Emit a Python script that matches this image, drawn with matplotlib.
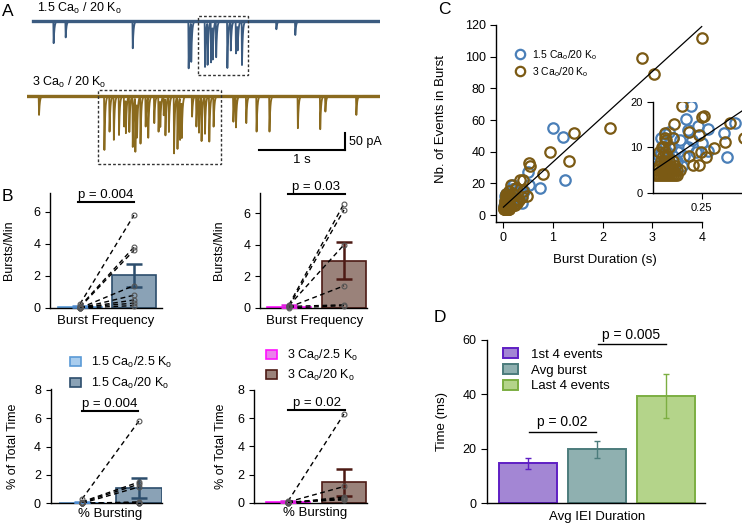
import numpy as np
import matplotlib
matplotlib.use("Agg")
import matplotlib.pyplot as plt
from matplotlib.patches import Rectangle

plt.rcParams['font.family'] = ['Liberation Sans', 'DejaVu Sans']
plt.rcParams['mathtext.fontset'] = 'custom'
plt.rcParams['mathtext.rm'] = 'Liberation Sans'
plt.rcParams['mathtext.it'] = 'Liberation Sans:italic'
plt.rcParams['axes.linewidth'] = 1.0

W, H = 742, 524

# ---------------- data ----------------
# A: example traces, spike times (s) and amplitudes (pA)
top_t = [0.31, 0.45, 1.23, 1.88, 1.91, 2.07, 2.10, 2.14, 2.16, 2.20, 2.33, 2.37,
         2.43, 2.45, 2.50, 2.90, 3.12]
top_a = [65, 48, 80, 139, 115, 135, 124, 120, 100, 105, 138, 85, 95, 76, 129, 24, 41]
bot_t = [0.14, 0.90, 0.96, 1.01, 1.07, 1.13, 1.15, 1.19, 1.23, 1.26, 1.28, 1.32,
         1.38, 1.41, 1.48, 1.53, 1.55, 1.59, 1.61, 1.65, 1.71, 1.75, 1.78, 1.80,
         1.92, 1.97, 2.00, 2.03, 2.07, 2.12, 2.17, 2.40, 2.43, 2.55, 2.67, 2.82,
         3.15, 3.41, 3.47, 3.83]
bot_a = [56, 159, 105, 129, 115, 90, 100, 105, 149, 159, 105, 139, 90, 120, 80, 105,
         80, 56, 110, 105, 169, 154, 124, 110, 61, 90, 105, 129, 110, 134, 90, 76,
         90, 80, 105, 105, 95, 98, 46, 56]

# B: paired values (2.5 K vs 20 K)
b1_left = [0.25, 0.1, 0.05, 0.0, 0.0, 0.0, 0.05, 0.0]
b1_right = [5.8, 3.8, 3.6, 1.4, 0.8, 0.5, 0.3, 0.15]
b1_mean = [0.05, 2.05]
b1_err = [0.1, 0.72]
b2_left = [0.2, 0.1, 0.15, 0.05, 0.1, 0.0]
b2_right = [6.6, 6.2, 4.0, 1.4, 0.2, 0.15]
b2_mean = [0.08, 3.0]
b2_err = [0.08, 1.15]
b3_left = [0.3, 0.1, 0.05, 0.0, 0.0, 0.0, 0.0, 0.0]
b3_right = [5.8, 1.5, 1.35, 1.15, 0.1, 0.05, 0.05, 0.0]
b3_mean = [0.05, 1.1]
b3_err = [0.05, 0.7]
b4_left = [0.1, 0.05, 0.0, 0.0, 0.0, 0.05]
b4_right = [6.3, 1.15, 0.4, 0.3, 0.25, 0.2]
b4_mean = [0.05, 1.45]
b4_err = [0.05, 0.95]

# C: burst duration (s) vs number of events
blue_x = [1.00, 1.21, 1.25, 0.73, 0.50, 0.52,
          0.195, 0.170, 0.230, 0.285, 0.422, 0.365, 0.179, 0.200, 0.138, 0.383,
          0.284, 0.082, 0.059, 0.041,
          0.02, 0.03, 0.04, 0.05, 0.06, 0.07, 0.08, 0.09, 0.10, 0.11, 0.12, 0.13,
          0.15, 0.16, 0.18, 0.22, 0.25, 0.06, 0.10]
blue_y = [55, 49, 22, 17, 27, 19,
          19.2, 16.2, 14.8, 14.0, 15.4, 13.1, 13.9, 11.7, 11.7, 7.8,
          9.3, 13.3, 10.9, 8.7,
          6, 8, 12, 5, 7, 9, 6, 10, 8, 5, 7, 9,
          6, 8, 10, 9, 11, 13, 12]
brown_x = [4.0, 2.79, 3.03, 2.15, 1.43, 0.93, 1.33, 0.79, 0.52, 0.54, 0.40, 0.34,
           0.147, 0.262, 0.254, 0.106, 0.395, 0.466, 0.186, 0.236, 0.369, 0.312,
           0.245, 0.183, 0.271, 0.206, 0.236, 0.059, 0.067, 0.046,
           0.01, 0.02, 0.03, 0.04, 0.05, 0.06, 0.07, 0.08, 0.09, 0.10, 0.11, 0.12,
           0.02, 0.04, 0.06, 0.08, 0.10, 0.12, 0.14, 0.03, 0.05, 0.07, 0.09, 0.11,
           0.04, 0.06, 0.08, 0.10, 0.05, 0.07, 0.03, 0.06, 0.05, 0.08, 0.06, 0.10]
brown_y = [112, 99, 89, 55, 52, 40, 34, 26, 33, 31, 22, 22,
           19.2, 17.0, 16.8, 15.2, 15.4, 12.0, 13.5, 12.8, 11.3, 9.8,
           9.1, 8.1, 7.8, 6.1, 6.1, 13.1, 11.7, 10.2,
           4, 4, 4, 4, 4, 4, 4, 4, 4, 4, 4, 4,
           5, 5, 5, 5, 5, 5, 5, 6, 6, 6, 6, 6,
           7, 7, 7, 7, 8, 8, 9, 9, 10, 10, 12, 12]
fit_slope = 28.5
fit_intercept = 5.0

# D: IEI
d_labels = ['1st 4 events', 'Avg burst', 'Last 4 events']
d_mean = [14.7, 19.8, 39.5]
d_err = [2.1, 3.0, 8.0]

# ---------------- figure ----------------
fig = plt.figure(figsize=(W / 100, H / 100), dpi=100)


def px_axes(l, t, r, b):
    return fig.add_axes([l / W, 1 - b / H, (r - l) / W, (b - t) / H])


def fx(x):
    return x / W


def fy(y):
    return 1 - y / H


def trace(ts, amps, t0, t1):
    t = np.sort(np.concatenate([np.linspace(t0, t1, 4000), ts]))
    y = np.zeros_like(t)
    for s, a in zip(ts, amps):
        d = t - s
        k = np.where(d < 0, np.clip(1 + d / 0.004, 0, 1), np.exp(-d / 0.009))
        y -= a * k
    return t, y


# ---- A ----
top_c = '#3b5b80'
bot_c = '#8a6a1e'
axA = px_axes(27, 0, 380, 170)
axA.set_xlim(0, 4.105)
axA.set_ylim(-438, 62)
axA.axis('off')
t, y = trace(top_t, top_a, 0.07, 4.105)
axA.plot(t, y, color=top_c, lw=1.3)
axA.plot([0.07, 4.105], [0, 0], color=top_c, lw=2.4)
t, y = trace(bot_t, bot_a, 0.0, 4.105)
axA.plot(t, y - 220, color=bot_c, lw=1.3)
axA.plot([0.0, 4.105], [-220, -220], color=bot_c, lw=2.4)
axA.add_patch(Rectangle((1.99, -159), 0.58, 173.7, fill=False, ls=(0, (2, 1.5)),
                        lw=1, ec='#333333', zorder=5))
axA.add_patch(Rectangle((0.83, -420), 1.43, 217.6, fill=False, ls=(0, (2, 1.5)),
                        lw=1, ec='#333333', zorder=5))
axA.plot([2.70, 3.70], [-379, -379], color='k', lw=1.5)
axA.plot([3.70, 3.70], [-379, -329], color='k', lw=1.5)
axA.text(3.2, -390, '1 s', ha='center', va='top', fontsize=9.5)
axA.text(3.74, -356, '50 pA', ha='left', va='center', fontsize=9)
fig.text(fx(37), fy(8), '1.5 Ca$_\\mathrm{o}$ / 20 K$_\\mathrm{o}$', fontsize=9, va='center')
fig.text(fx(32), fy(82), '3 Ca$_\\mathrm{o}$ / 20 K$_\\mathrm{o}$', fontsize=9, va='center')
fig.text(fx(2), fy(11), 'A', fontsize=12.5, va='center')


# ---- B ----
def burst_panel(rect, xlim, ymax, yticks, left, right, means, errs, faces, edges,
                errcs, p_text, p_x0, p_x1, p_y, ylabel, xlabel, ylab_x, xlab_x, xlab_y):
    ax = px_axes(*rect)
    ax.bar([0, 1], means, width=0.8, color=faces, edgecolor=edges, lw=1.2, zorder=1)
    for i in range(2):
        ax.errorbar(i, means[i], yerr=errs[i], color=errcs[i], capsize=5.5, lw=1.8,
                    capthick=1.8, zorder=3)
    for l, r in zip(left, right):
        ax.plot([0, 1], [l, r], color='k', ls=(0, (3.5, 2.5)), lw=1.0, zorder=4)
    ax.plot(np.zeros(len(left)), left, 'o', mfc='none', mec='#555555', ms=3.5,
            mew=0.8, zorder=5, clip_on=False)
    ax.plot(np.ones(len(right)), right, 'o', mfc='none', mec='#555555', ms=3.5,
            mew=0.8, zorder=5, clip_on=False)
    ax.plot([p_x0, p_x1], [p_y, p_y], color='k', lw=1.5, clip_on=False)
    ax.text((p_x0 + p_x1) / 2, p_y * 1.012, p_text, ha='center', va='bottom',
            fontsize=9.5)
    ax.set_xlim(*xlim)
    ax.set_ylim(0, ymax)
    ax.set_yticks(yticks)
    ax.set_xticks([])
    ax.spines[['top', 'right']].set_visible(False)
    ax.tick_params(axis='y', direction='out', length=3.5, labelsize=9)
    ax.set_ylabel(ylabel, fontsize=9)
    ax.yaxis.set_label_coords(ylab_x, 0.5)
    ax.set_xlabel(xlabel, fontsize=9.5)
    ax.xaxis.set_label_coords(xlab_x, xlab_y)
    return ax


blue_faces = ['#a9cdee', '#8aa2b6']
blue_edges = ['#5a9ad6', '#2c4d6c']
blue_errs = ['#4e8cd0', '#2c4d6c']
mag_faces = ['#ea80ea', '#9a827a']
mag_edges = ['#ff10ff', '#4d1a14']
mag_errs = ['#e020e0', '#4d1a14']

axB1 = burst_panel((50, 192.7, 162, 308), (-0.556, 1.52), 7.2, [0, 2, 4, 6],
                   b1_left, b1_right, b1_mean, b1_err, blue_faces, blue_edges,
                   blue_errs, 'p = 0.004', -0.03, 1.0, 6.6, 'Bursts/Min',
                   'Burst Frequency', -0.31, 0.5, -0.065)
axB2 = burst_panel((260, 193.3, 367, 308), (-0.527, 1.418), 7.25, [0, 2, 4, 6],
                   b2_left, b2_right, b2_mean, b2_err, mag_faces, mag_edges,
                   mag_errs, 'p = 0.03', -0.02, 1.02, 7.2, 'Bursts/Min',
                   'Burst Frequency', -0.325, 0.514, -0.065)
axB3 = burst_panel((50.7, 389, 162, 503.3), (-0.549, 1.404), 8.05, [0, 2, 4, 6, 8],
                   b3_left, b3_right, b3_mean, b3_err, blue_faces, blue_edges,
                   blue_errs, 'p = 0.004', 0.0, 0.98, 6.5, '% of Total Time',
                   '% Bursting', -0.285, 0.53, -0.04)
axB4 = burst_panel((254, 390, 367, 502.7), (-0.607, 1.41), 8.0, [0, 2, 4, 6, 8],
                   b4_left, b4_right, b4_mean, b4_err, mag_faces, mag_edges,
                   mag_errs, 'p = 0.02', 0.0, 1.02, 6.6, '% of Total Time',
                   '% Bursting', -0.24, 0.54, -0.04)
fig.text(fx(2), fy(197), 'B', fontsize=12.5, va='center')

for ax, faces, edges, labels, lx, ly, sp in [
        (axB3, blue_faces, blue_edges,
         ['1.5 Ca$_\\mathrm{o}$/2.5 K$_\\mathrm{o}$', '1.5 Ca$_\\mathrm{o}$/20 K$_\\mathrm{o}$'], 70, 355, 0.45),
        (axB4, mag_faces, mag_edges,
         ['3 Ca$_\\mathrm{o}$/2.5 K$_\\mathrm{o}$', '3 Ca$_\\mathrm{o}$/20 K$_\\mathrm{o}$'], 266, 348, 0.38)]:
    handles = [Rectangle((0, 0), 1, 1, fc=f, ec=e, lw=1.2) for f, e in zip(faces, edges)]
    ax.legend(handles, labels, loc='upper left', bbox_to_anchor=(fx(lx), fy(ly)),
              bbox_transform=fig.transFigure, frameon=False, fontsize=9,
              handlelength=0.9, handleheight=0.7, handletextpad=0.8, borderpad=0,
              borderaxespad=0, labelspacing=sp)

# ---- C ----
c_blue = '#4a7fb8'
c_brown = '#7b5a14'
axC = px_axes(496, 25, 701.7, 221.7)
axC.plot([0, 4.0], [fit_intercept, fit_intercept + fit_slope * 4.0], color='k',
         lw=0.9, zorder=3, clip_on=False)
axC.plot(blue_x, blue_y, 'o', mfc='none', mec=c_blue, ms=7.5, mew=1.6, zorder=2,
         clip_on=False, label='1.5 Ca$_\\mathrm{o}$/20 K$_\\mathrm{o}$')
axC.plot(brown_x, brown_y, 'o', mfc='none', mec=c_brown, ms=7.5, mew=1.6, zorder=2,
         clip_on=False, label='3 Ca$_\\mathrm{o}$/20 K$_\\mathrm{o}$')
axC.set_xlim(-0.15, 4.0)
axC.set_ylim(-4.2, 120)
axC.set_xticks([0, 1, 2, 3, 4])
axC.set_yticks([0, 20, 40, 60, 80, 100, 120])
axC.spines[['top', 'right']].set_visible(False)
axC.tick_params(direction='out', length=4, labelsize=9)
axC.set_xlabel('Burst Duration (s)', fontsize=9.5)
axC.xaxis.set_label_coords(0.53, -0.165)
axC.set_ylabel('Nb. of Events in Burst', fontsize=9.5)
axC.yaxis.set_label_coords(-0.24, 0.52)
axC.legend(loc='upper left', bbox_to_anchor=(fx(514), fy(48)),
           bbox_transform=fig.transFigure, frameon=False, fontsize=7.5,
           handlelength=1.2, handletextpad=0.5, borderpad=0, borderaxespad=0,
           labelspacing=0.3, markerscale=0.9)
fig.text(fx(438), fy(9), 'C', fontsize=12.5, va='center')

axI = px_axes(653.3, 101.7, 742, 192.7)
axI.set_facecolor('white')
axI.plot([0.005, 0.458], [fit_intercept, fit_intercept + fit_slope * 0.458],
         color='k', lw=0.9, zorder=3)
axI.plot(blue_x, blue_y, 'o', mfc='none', mec=c_blue, ms=7.5, mew=1.6, zorder=2)
axI.plot(brown_x, brown_y, 'o', mfc='none', mec=c_brown, ms=7.5, mew=1.6, zorder=2)
axI.set_xlim(0, 0.458)
axI.set_ylim(0, 20.1)
axI.set_xticks([0.25])
axI.set_xticklabels(['0.25'])
axI.set_yticks([0, 10, 20])
axI.spines[['top', 'right']].set_visible(False)
axI.tick_params(direction='out', length=4, labelsize=8)

# ---- D ----
d_faces = ['#a386d4', '#8fb0b0', '#b4d48a']
d_edges = ['#5f1fc4', '#4c7c7c', '#7cae42']
axD = px_axes(486.7, 340, 705, 503.3)
for i in range(3):
    axD.bar(i, d_mean[i], width=0.84, color=d_faces[i], edgecolor=d_edges[i], lw=1.4,
            label=d_labels[i])
    axD.errorbar(i, d_mean[i], yerr=d_err[i], color=d_edges[i], capsize=2.5, lw=1.0,
                 capthick=1.0)
axD.plot([0.02, 0.99], [26.3, 26.3], color='k', lw=1.0)
axD.text(0.5, 27.3, 'p = 0.02', ha='center', va='bottom', fontsize=10)
axD.plot([1.01, 2.0], [58.4, 58.4], color='k', lw=1.0, clip_on=False)
axD.text(1.5, 59.4, 'p = 0.005', ha='center', va='bottom', fontsize=10)
axD.set_xlim(-0.6, 2.565)
axD.set_ylim(0, 60)
axD.set_yticks([0, 20, 40, 60])
axD.set_xticks([])
axD.spines[['top', 'right']].set_visible(False)
axD.tick_params(axis='y', direction='out', length=4, labelsize=9)
axD.set_ylabel('Time (ms)', fontsize=9.5)
axD.yaxis.set_label_coords(-0.176, 0.5)
axD.set_xlabel('Avg IEI Duration', fontsize=9.5)
axD.xaxis.set_label_coords(0.504, -0.045)
axD.legend(loc='upper left', bbox_to_anchor=(fx(503), fy(348)),
           bbox_transform=fig.transFigure, frameon=False, fontsize=9.5,
           handlelength=1.1, handleheight=0.8, handletextpad=1.0, borderpad=0,
           borderaxespad=0, labelspacing=0.25)
fig.text(fx(434), fy(318), 'D', fontsize=12.5, va='center')

fig.savefig('out.png', dpi=100)
